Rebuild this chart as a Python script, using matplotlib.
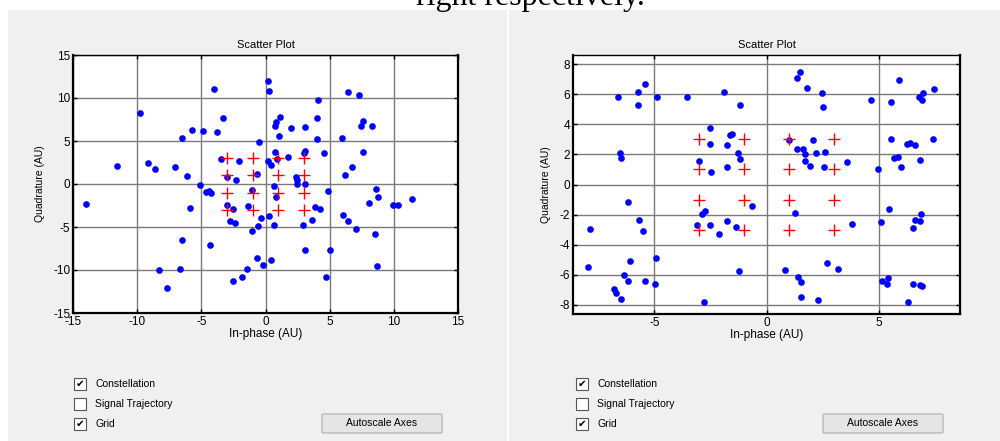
import matplotlib
matplotlib.use("Agg")
import matplotlib.pyplot as plt
from matplotlib.patches import Rectangle, FancyBboxPatch

plt.rcParams['font.family'] = ['Liberation Sans', 'DejaVu Sans']
plt.rcParams['axes.unicode_minus'] = False

# 16-QAM reference constellation
const_levels = [-3, -1, 1, 3]

# received symbols, high noise (left)
rx1_i = [-3.99, 0.21, 0.31, 6.42, 7.25, 4.09, -9.79, -3.32, 1.14, 0.85, 0.75, 3.99,
         7.62, 7.44, 8.26, 1.97, 3.11, -5.73, -4.90, -3.78, -6.48, 1.04, 4.02, 5.93,
         -0.52, 3.11, 3.01, 0.75, 4.56, 7.62, 1.74, -3.50, -2.10, 0.21, 0.39, -11.58,
         -9.15, -8.60, -7.02, 6.71, -6.11, -3.03, -2.31, -0.70, 2.41, 2.49, 2.44, 3.08,
         6.22, -5.08, 0.67, -4.40, -4.64, -4.22, -1.09, 4.84, 8.63, 0.80, 8.73, -13.96,
         8.06, 9.90, 10.31, 11.42, -5.91, -3.03, -2.56, -1.37, 3.89, 4.22, 6.06, -0.34,
         0.28, -2.77, -2.36, -0.62, 0.67, 2.93, 3.65, 6.45, -1.09, 7.05, 8.55, -6.48,
         -4.33, 3.08, 5.03, -0.70, 0.39, -0.16, -1.45, -8.32, -6.66, 8.65, -1.84, -2.56,
         4.74, -7.67, 0.93]
rx1_q = [11.08, 11.93, 10.81, 10.73, 10.35, 9.77, 8.30, 7.64, 7.84, 7.18, 6.80, 7.72,
         7.37, 6.80, 6.80, 6.53, 6.68, 6.25, 6.18, 6.06, 5.33, 5.60, 5.21, 5.33,
         4.83, 3.86, 3.59, 3.71, 3.63, 3.71, 3.17, 2.90, 2.70, 2.70, 2.24, 2.05,
         2.43, 1.78, 1.97, 1.97, 0.89, 0.77, 0.50, 1.12, 0.85, 0.42, 0.04, 0.00,
         1.04, -0.15, -0.27, -0.77, -0.93, -1.08, -0.73, -0.85, -0.54, -1.54, -1.47, -2.28,
         -2.20, -2.47, -2.39, -1.74, -2.78, -2.39, -2.86, -2.59, -2.70, -2.93, -3.59, -3.98,
         -3.71, -4.36, -4.52, -4.94, -4.71, -4.71, -4.17, -4.25, -5.48, -5.29, -5.87, -6.56,
         -7.14, -7.68, -7.68, -8.65, -8.84, -9.46, -9.85, -10.00, -9.92, -9.58, -10.77, -11.24,
         -10.77, -12.08, 2.93]

# received symbols (right)
rx2_i = [1.50, 1.35, -5.40, 5.92, 1.82, 7.47, -5.73, -1.90, 2.47, 6.99, -6.64, -4.88,
         -3.56, 6.82, 6.95, 4.66, 5.55, -5.73, -1.16, 2.51, -2.53, -1.52, -1.65, 7.41,
         5.55, 2.08, -2.53, -1.74, 6.25, 6.40, 6.62, 1.34, 1.61, 2.63, -6.53, -1.26,
         1.73, 2.19, -6.47, -1.16, 5.70, 5.88, 6.83, -3.01, 1.73, 3.59, -1.74, 1.93,
         2.57, 5.98, 4.97, -2.49, -6.16, -0.63, 5.46, -2.75, -2.86, 1.29, 6.88, -1.74,
         -5.67, 6.61, 6.83, 3.81, 5.09, -3.08, -2.53, -7.86, -1.37, 6.52, -5.52, -2.11,
         -4.93, -6.10, 2.68, -7.96, 3.21, 0.82, -1.21, -6.37, 1.40, 5.40, -6.19, -5.40,
         5.16, 1.52, -4.99, 5.36, 6.55, 6.83, 6.95, -6.80, -6.70, -6.47, 1.52, 2.31,
         -2.80, 6.29, 1.00]
rx2_q = [7.50, 7.08, 6.70, 6.97, 6.39, 6.33, 6.11, 6.11, 6.06, 6.06, 5.80, 5.80,
         5.80, 5.80, 5.60, 5.60, 5.49, 5.27, 5.27, 5.15, 3.76, 3.36, 3.30, 3.03,
         2.99, 2.94, 2.72, 2.65, 2.72, 2.77, 2.61, 2.35, 2.39, 2.19, 2.08, 2.08,
         2.01, 2.08, 1.77, 1.70, 1.75, 1.81, 1.66, 1.55, 1.55, 1.50, 1.13, 1.24,
         1.19, 1.17, 1.06, 0.80, -1.17, -1.42, -1.64, -1.77, -1.95, -1.90, -1.95, -2.43,
         -2.39, -2.39, -2.43, -2.59, -2.48, -2.70, -2.70, -2.96, -2.85, -2.92, -3.08, -3.30,
         -4.89, -5.09, -5.18, -5.46, -5.62, -5.69, -5.77, -6.04, -6.11, -6.19, -6.42, -6.42,
         -6.42, -6.48, -6.64, -6.64, -6.64, -6.70, -6.75, -6.95, -7.21, -7.63, -7.46, -7.68,
         -7.81, -7.81, 2.98]

left_lim = 15
left_ticks = [-15, -10, -5, 0, 5, 10, 15]
right_lim = 8.63
right_xticks = [-5, 0, 5]
right_yticks = [-8, -6, -4, -2, 0, 2, 4, 6, 8]

panel_gray = '#f0f0f0'

fig = plt.figure(figsize=(10, 4.41), dpi=100)
fig.patch.set_facecolor('white')


def px(x, y):
    # pixel position (from top-left) to figure fraction
    return x / 1000, 1 - y / 441


# window backgrounds
fig.patches.append(Rectangle((0.008, 0), 0.499, 1 - 10 / 441, transform=fig.transFigure,
                             facecolor=panel_gray, edgecolor='none', zorder=-1))
fig.patches.append(Rectangle((0.509, 0), 0.491, 1 - 10 / 441, transform=fig.transFigure,
                             facecolor=panel_gray, edgecolor='none', zorder=-1))

fig.text(0.530, 1 - 5 / 441, 'right respectively.', family='Liberation Serif',
         fontsize=23, ha='center', va='baseline', zorder=-0.5)


def scatter_axes(rect, xi, xq, xlim, ylim, xticks, yticks):
    ax = fig.add_axes(rect)
    ax.set_zorder(1)
    ax.set_facecolor('white')
    ax.plot(xi, xq, 'o', color='#0000ff', ms=4.8, mew=0, zorder=3)
    ci = [a for a in const_levels for b in const_levels]
    cq = [b for a in const_levels for b in const_levels]
    ax.plot(ci, cq, '+', color='#ff0000', ms=9, mew=1.0, zorder=4)
    ax.set_xlim(xlim)
    ax.set_ylim(ylim)
    ax.set_xticks(xticks)
    ax.set_yticks(yticks)
    ax.grid(True, color='#7a7a7a', linewidth=1.0, linestyle='-')
    ax.set_axisbelow(True)
    ax.tick_params(direction='in', top=True, right=True, length=3, width=1,
                   labelsize=8.5, pad=2, colors='black')
    for side in ['left', 'bottom', 'right']:
        ax.spines[side].set_linewidth(1.6)
    ax.spines['top'].set_linewidth(1.0)
    ax.set_title('Scatter Plot', fontsize=8, pad=5)
    ax.set_xlabel('In-phase (AU)', fontsize=8.5, labelpad=0)
    ax.set_ylabel('Quadrature (AU)', fontsize=7.5, labelpad=6)
    return ax


scatter_axes([0.073, 1 - 313 / 441, 0.385, 258 / 441], rx1_i, rx1_q,
             (-left_lim, left_lim), (-left_lim, left_lim), left_ticks, left_ticks)
scatter_axes([0.573, 1 - 314 / 441, 0.387, 259 / 441], rx2_i, rx2_q,
             (-right_lim, right_lim), (-8.6, 8.6), right_xticks, right_yticks)

# control strip under each plot
options = ['Constellation', 'Signal Trajectory', 'Grid']
checked = [True, False, True]
box_tops = [378, 398, 418]

for x0, bx0 in [(74, 322), (576, 823)]:
    for label, on, top in zip(options, checked, box_tops):
        bx, by = px(x0, top + 12)
        fig.patches.append(Rectangle((bx, by), 12 / 1000, 12 / 441, transform=fig.transFigure,
                                     facecolor='white', edgecolor='#555555', lw=0.8, zorder=2))
        if on:
            cx, cy = px(x0 + 6, top + 6)
            fig.text(cx, cy, '\u2714', family='DejaVu Sans', fontsize=7.5, ha='center',
                     va='center', zorder=3)
        tx, ty = px(x0 + 21, top + 6)
        fig.text(tx, ty, label, fontsize=7.5, ha='left', va='center')
    bx, by = px(bx0, 433)
    fig.patches.append(FancyBboxPatch((bx, by), 120 / 1000, 19 / 441,
                                      boxstyle='round,pad=0,rounding_size=0.002',
                                      transform=fig.transFigure, facecolor='#e5e5e5',
                                      edgecolor='#adadad', lw=0.8, zorder=2))
    tx, ty = px(bx0 + 60, 423.5)
    fig.text(tx, ty, 'Autoscale Axes', fontsize=7.5, ha='center', va='center')

fig.savefig('out.png', dpi=100)
